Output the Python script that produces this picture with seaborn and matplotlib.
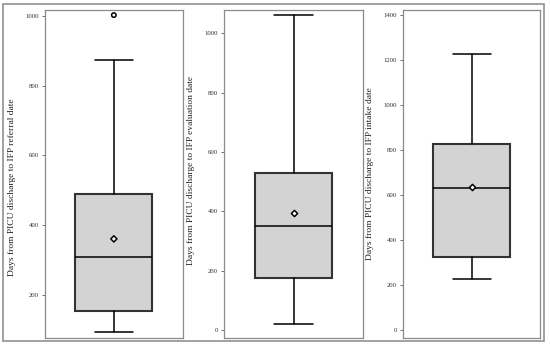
import matplotlib
matplotlib.use("Agg")
import matplotlib.pyplot as plt
import matplotlib.patches as mpatches
import pandas as pd
import seaborn as sns

# summary statistics (days)
panels = ["referral", "evaluation", "intake"]
ylabels = [
    "Days from PICU discharge to IFP referral date",
    "Days from PICU discharge to IFP evaluation date",
    "Days from PICU discharge to IFP intake date",
]
whisker_low = [95, 22, 227]
q1 = [155, 175, 323]
median = [310, 350, 630]
q3 = [490, 530, 826]
whisker_high = [873, 1061, 1225]
means = [361, 395, 634]
outliers = [[1002], [], []]

ylims = [(78, 1018), (-25, 1080), (-34, 1424)]
yticks = [list(range(200, 1001, 200)), list(range(0, 1001, 200)), list(range(0, 1401, 200))]

sns.set_theme(style="white")
plt.rcParams["font.family"] = ["Liberation Serif", "DejaVu Serif"]

W, H = 550, 348
fig = plt.figure(figsize=(W / 100, H / 100), dpi=100)

# axes boxes in pixels: left, right, top, bottom
boxes_px = [(45, 182.7, 9.5, 337.7), (224.3, 362.7, 9.5, 337.7), (403.3, 540, 9.5, 337.7)]
label_x = [-0.21, -0.215, -0.215]
label_y = [0.46, 0.51, 0.5]

for i, name in enumerate(panels):
    l, r, t, b = boxes_px[i]
    ax = fig.add_axes([l / W, 1 - b / H, (r - l) / W, (b - t) / H])

    stats = [{
        "whislo": whisker_low[i], "q1": q1[i], "med": median[i],
        "q3": q3[i], "whishi": whisker_high[i], "fliers": [],
    }]
    ax.bxp(stats, positions=[0], widths=0.56, patch_artist=True,
           showfliers=False,
           boxprops=dict(facecolor="#d3d3d3", edgecolor="#333333", linewidth=1.5),
           medianprops=dict(color="black", linewidth=1.1),
           whiskerprops=dict(color="black", linewidth=1.1),
           capprops=dict(color="black", linewidth=1.1),
           capwidths=0.28)

    pts = pd.DataFrame({"x": [0] * (1 + len(outliers[i])),
                        "y": [means[i]] + outliers[i],
                        "kind": ["mean"] + ["outlier"] * len(outliers[i])})
    sns.scatterplot(data=pts, x="x", y="y", style="kind",
                    markers={"mean": "D", "outlier": "o"},
                    s=10, color="white", edgecolor="black", linewidth=1.1,
                    legend=False, ax=ax, zorder=5)

    ax.set_xlim(-0.5, 0.5)
    ax.set_ylim(*ylims[i])
    ax.set_yticks(yticks[i])
    ax.set_xticks([])
    ax.set_xlabel("")
    ax.set_ylabel(ylabels[i], fontsize=6.8, color="#222222")
    ax.yaxis.set_label_coords(label_x[i], label_y[i])
    ax.tick_params(axis="y", left=True, length=2.5, width=0.6, color="#555555",
                   labelsize=4.9, labelcolor="#333333", pad=2)
    for sp in ax.spines.values():
        sp.set_color("#8a8a8a")
        sp.set_linewidth(0.9)

# outer frame around the whole figure
frame = mpatches.Rectangle((3.3 / W, 1 - 341 / H), (544 - 3.3) / W, (341 - 4) / H,
                           transform=fig.transFigure, fill=False,
                           edgecolor="#9a9a9a", linewidth=1.3)
fig.patches.append(frame)

fig.savefig("out.png", dpi=100)
